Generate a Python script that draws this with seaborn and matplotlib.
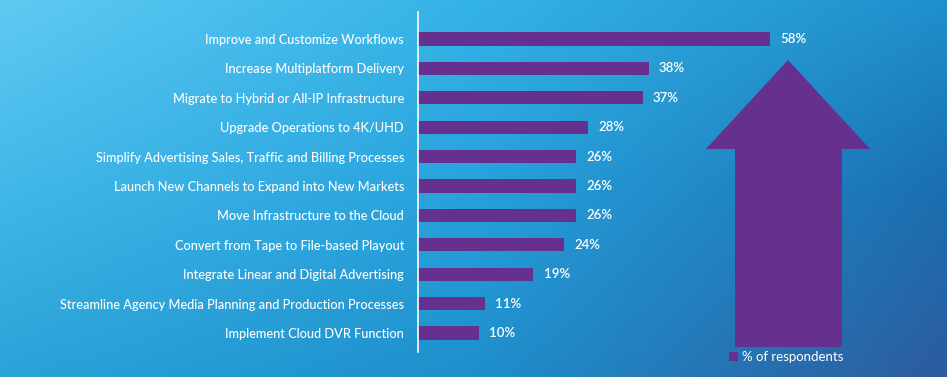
import numpy as np
import pandas as pd
import seaborn as sns
import matplotlib.pyplot as plt
from matplotlib.colors import to_rgb
from matplotlib.patches import Polygon, Patch

categories = [
    "Improve and Customize Workflows",
    "Increase Multiplatform Delivery",
    "Migrate to Hybrid or All-IP Infrastructure",
    "Upgrade Operations to 4K/UHD",
    "Simplify Advertising Sales, Traffic and Billing Processes",
    "Launch New Channels to Expand into New Markets",
    "Move Infrastructure to the Cloud",
    "Convert from Tape to File-based Playout",
    "Integrate Linear and Digital Advertising",
    "Streamline Agency Media Planning and Production Processes",
    "Implement Cloud DVR Function",
]
values = [58, 38, 37, 28, 26, 26, 26, 24, 19, 11, 10]

df = pd.DataFrame({"category": categories, "pct": values})

sns.set_theme(style="white")
plt.rcParams["font.family"] = ["Lato", "DejaVu Sans"]

W, H = 947, 377
fig = plt.figure(figsize=(W / 100, H / 100), dpi=100)

# background gradient: 3x3 grid of colours, bilinear blend
grid = [["#5fcaf3", "#34b3e6", "#1f8fcb"],
        ["#42b8e8", "#27a2dc", "#1a6fb0"],
        ["#2aa3d8", "#1e8fcc", "#2d5b9e"]]
g = np.array([[to_rgb(c) for c in row] for row in grid])
nx, ny = 300, 120
xs, ys = np.linspace(0, 1, nx), np.linspace(0, 1, ny)
pts = [0, 0.5, 1]
rows = np.stack([np.stack([np.interp(xs, pts, g[r, :, k]) for k in range(3)], -1)
                 for r in range(3)])  # 3 x nx x 3
img = np.stack([np.stack([np.interp(ys, pts, rows[:, i, k]) for k in range(3)], -1)
                for i in range(nx)], 1)  # ny x nx x 3
bg = fig.add_axes([0, 0, 1, 1])
bg.imshow(img, aspect="auto", extent=[0, 1, 1, 0], interpolation="bilinear")
bg.set_axis_off()

purple = "#66308f"

# arrow decoration
arrow = Polygon([(788 / W, 1 - 60 / H), (870 / W, 1 - 149 / H), (842 / W, 1 - 149 / H),
                 (842 / W, 1 - 347 / H), (735 / W, 1 - 347 / H), (735 / W, 1 - 149 / H),
                 (706 / W, 1 - 149 / H)], closed=True, transform=fig.transFigure,
                facecolor=purple, edgecolor="none", zorder=1)
fig.patches.append(arrow)

ax = fig.add_axes([418 / W, 1 - 352 / H, 482 / W, 340 / H])
ax.patch.set_alpha(0)
sns.barplot(data=df, y="category", x="pct", color=purple, saturation=1,
            width=0.45, linewidth=0, ax=ax)
ax.set_xlim(0, 482 / 6.07)
ax.set_ylim(10.65, -0.92)
ax.set_xlabel("")
ax.set_ylabel("")
ax.set_xticks([])
for s in ["top", "right", "bottom"]:
    ax.spines[s].set_visible(False)
ax.spines["left"].set_color("white")
ax.spines["left"].set_linewidth(1.2)
ax.tick_params(axis="y", length=0, pad=10, labelsize=9.2, labelcolor="white")
for lab in ax.get_yticklabels():
    lab.set_fontweight("medium")

for i, v in enumerate(values):
    ax.text(v + 1.7, i, f"{v}%", va="center", ha="left", color="white", fontsize=9.5,
            fontweight="semibold")

fig.legend(handles=[Patch(facecolor=purple, edgecolor="none", label="% of respondents")],
           loc="center left", bbox_to_anchor=(729 / W, 1 - 357 / H), frameon=False,
           fontsize=9.5, labelcolor="white", handlelength=0.7, handleheight=0.7,
           handletextpad=0.3, borderpad=0, borderaxespad=0)

fig.savefig("out.png", dpi=100)
